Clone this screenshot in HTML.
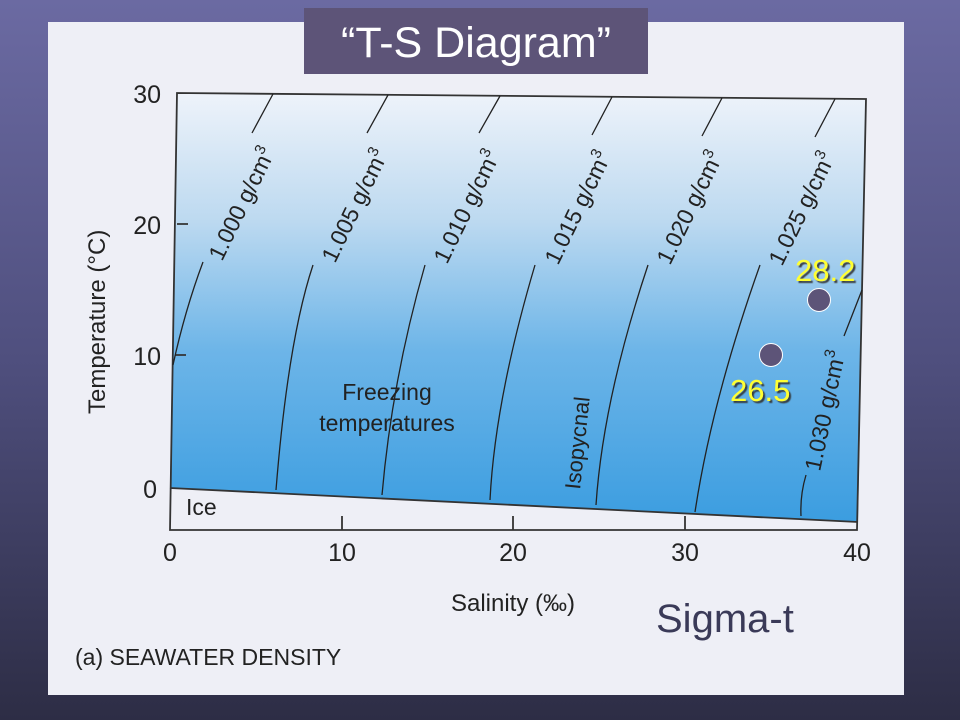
<!DOCTYPE html>
<html><head><meta charset="utf-8"><style>
html,body{margin:0;padding:0;width:960px;height:720px;overflow:hidden}
body{background:linear-gradient(180deg,#6b6aa2 0%,#4f4f7e 50%,#2d2d45 100%);position:relative;font-family:"Liberation Sans",sans-serif}
</style></head><body>
<svg width="960" height="720" style="position:absolute;left:0;top:0">
<defs>
<linearGradient id="w" x1="0" y1="0" x2="0" y2="1">
<stop offset="0" stop-color="#eef3fa"/><stop offset="0.3" stop-color="#bcd9f0"/><stop offset="0.6" stop-color="#6db5e8"/><stop offset="1" stop-color="#3b9de0"/>
</linearGradient>
<filter id="s"><feDropShadow dx="2" dy="2" stdDeviation="0.5" flood-color="#333" flood-opacity="0.9"/></filter>
</defs>
<rect x="48" y="22" width="856" height="673" fill="#eeeff6"/>
<rect x="304" y="8" width="344" height="66" fill="#5d5478"/>
<text x="476" y="57" font-size="43" fill="#fff" text-anchor="middle" font-family="Liberation Sans">“T-S Diagram”</text>
<path d="M177,93 L866,99 L858,522 L170,488 Z" fill="url(#w)"/>
<g stroke="#333" stroke-width="1.8" fill="none">
<path d="M177,93 L866,99 L857,530 L170,530 Z"/>
<path d="M170,488 L858,522"/>
<path d="M342,530 V516 M513,530 V516 M685,530 V516"/>
<path d="M177,224 H188 M175,355 H186"/>
</g>
<g stroke="#222" stroke-width="1.3" fill="none">
<path d="M273,94 L252,133 M203,262 Q185,310 173,365"/>
<path d="M388,95 L367,133 M313,265 Q288,340 276,490"/>
<path d="M500,96 L479,133 M425,265 Q392,380 382,495"/>
<path d="M612,97 L592,135 M535,265 Q495,400 490,500"/>
<path d="M722,98 L702,136 M648,265 Q603,400 596,505"/>
<path d="M835,99 L815,137 M760,265 Q712,400 695,512"/>
<path d="M862,290 L844,336 M806,475 Q800,495 801,516"/>
</g>
<g font-family="Liberation Sans" font-size="23" fill="#222">
<text transform="translate(222,262) rotate(-64)">1.000 g/cm<tspan dy="-10" font-size="15">3</tspan></text>
<text transform="translate(335,264) rotate(-64)">1.005 g/cm<tspan dy="-10" font-size="15">3</tspan></text>
<text transform="translate(447,265) rotate(-64)">1.010 g/cm<tspan dy="-10" font-size="15">3</tspan></text>
<text transform="translate(558,266) rotate(-64)">1.015 g/cm<tspan dy="-10" font-size="15">3</tspan></text>
<text transform="translate(670,266) rotate(-64)">1.020 g/cm<tspan dy="-10" font-size="15">3</tspan></text>
<text transform="translate(782,267) rotate(-64)">1.025 g/cm<tspan dy="-10" font-size="15">3</tspan></text>
<text transform="translate(820,472) rotate(-78)">1.030 g/cm<tspan dy="-10" font-size="15">3</tspan></text>
<text transform="translate(580,490) rotate(-84)" font-size="22">Isopycnal</text>
<text x="387" y="400" text-anchor="middle" font-size="23">Freezing</text>
<text x="387" y="431" text-anchor="middle" font-size="23">temperatures</text>
<text x="186" y="515" font-size="23">Ice</text>
<text x="161" y="103" text-anchor="end" font-size="25">30</text>
<text x="161" y="234" text-anchor="end" font-size="25">20</text>
<text x="161" y="365" text-anchor="end" font-size="25">10</text>
<text x="157" y="498" text-anchor="end" font-size="25">0</text>
<text x="170" y="561" text-anchor="middle" font-size="25">0</text>
<text x="342" y="561" text-anchor="middle" font-size="25">10</text>
<text x="513" y="561" text-anchor="middle" font-size="25">20</text>
<text x="685" y="561" text-anchor="middle" font-size="25">30</text>
<text x="857" y="561" text-anchor="middle" font-size="25">40</text>
<text x="513" y="611" text-anchor="middle" font-size="24">Salinity (‰)</text>
<text transform="translate(105,414) rotate(-90)" font-size="24">Temperature (°C)</text>
<text x="75" y="665" font-size="23">(a) SEAWATER DENSITY</text>
</g>
<text x="656" y="632" font-size="40" fill="#3a3a58">Sigma-t</text>
<circle cx="819" cy="300" r="11.5" fill="#5d5478" stroke="#fff" stroke-width="1"/>
<circle cx="771" cy="355" r="11.5" fill="#5d5478" stroke="#fff" stroke-width="1"/>
<g font-size="31" fill="#ffff33" filter="url(#s)">
<text x="795" y="281">28.2</text>
<text x="730" y="401">26.5</text>
</g>
</svg>
</body></html>
